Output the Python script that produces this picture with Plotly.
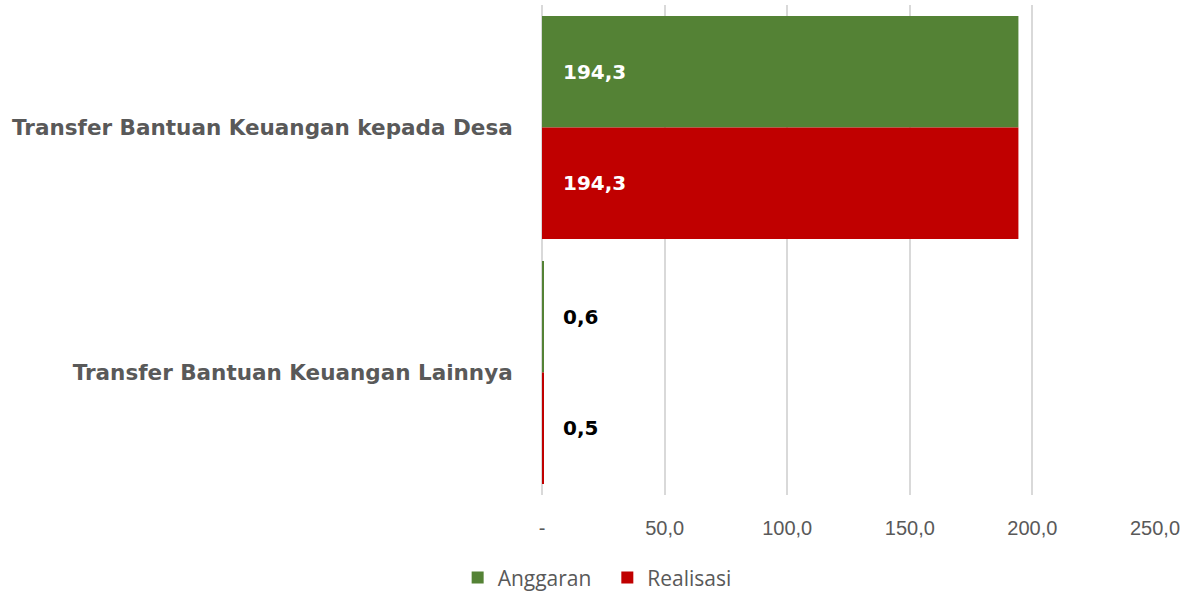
import plotly.graph_objects as go

categories = ["Transfer Bantuan Keuangan kepada Desa", "Transfer Bantuan Keuangan Lainnya"]
anggaran = [194.3, 0.6]
realisasi = [194.3, 0.5]
tick_vals = [0, 50, 100, 150, 200, 250]
tick_text = ["-", "50,0", "100,0", "150,0", "200,0", "250,0"]

GREEN = "#548235"
RED = "#C00000"
GRAY = "#595959"
BARGAP = 0.09

fig = go.Figure()
fig.add_trace(go.Bar(y=categories, x=anggaran, name="Anggaran\u00a0\u00a0", orientation="h",
                     marker=dict(color=GREEN, line=dict(width=0))))
fig.add_trace(go.Bar(y=categories, x=realisasi, name="Realisasi", orientation="h",
                     marker=dict(color=RED, line=dict(width=0))))

def fmt(v):
    return f"{v:.1f}".replace(".", ",")

half = (1 - BARGAP) / 4
annotations = []
for ci, cat in enumerate(categories):
    for vals, off in [(anggaran, -half), (realisasi, half)]:
        v = vals[ci]
        annotations.append(dict(
            x=0, y=ci + off, xref="x", yref="y", text="<b>" + fmt(v) + "</b>", showarrow=False,
            xanchor="left", yanchor="middle", xshift=19,
            font=dict(family="DejaVu Sans", size=20, color="white" if v > 20 else "black"),
        ))

fig.update_layout(
    width=1186, height=592,
    margin=dict(l=542, r=31, t=5, b=97),
    paper_bgcolor="white", plot_bgcolor="white",
    barmode="group", bargap=BARGAP, bargroupgap=0,
    annotations=annotations,
    xaxis=dict(range=[0, 250], tickvals=tick_vals, ticktext=tick_text,
               showgrid=True, gridcolor="#D9D9D9", gridwidth=2,
               zeroline=True, zerolinecolor="#D9D9D9", zerolinewidth=2,
               ticks="outside", ticklen=15, tickcolor="rgba(0,0,0,0)",
               tickfont=dict(family="Liberation Sans", size=20, color=GRAY)),
    yaxis=dict(autorange="reversed", showgrid=False, zeroline=False,
               ticks="outside", ticklen=24, tickcolor="rgba(0,0,0,0)",
               tickfont=dict(family="DejaVu Sans", size=21.5, color=GRAY),
               tickprefix="<b>", ticksuffix="</b>"),
    legend=dict(orientation="h", xref="container", yref="container",
                x=0.5035, xanchor="center", y=0.024, yanchor="middle",
                font=dict(family="Open Sans", size=21, color=GRAY),
                itemwidth=30, traceorder="normal"),
    showlegend=True,
)

fig.write_html("out.html", config={"displayModeBar": False},
               post_script="document.body.style.margin='0';")
